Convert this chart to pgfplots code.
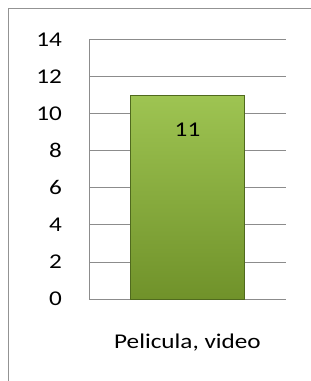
\documentclass[border=0pt]{standalone}
\usepackage{fontspec}
\setmainfont{Carlito}[FakeStretch=1.2]
\usepackage{pgfplots}
\pgfplotsset{compat=1.18}
\definecolor{gridgray}{RGB}{140,140,140}
\definecolor{bartop}{RGB}{158,196,82}
\definecolor{barbot}{RGB}{112,146,42}
\definecolor{baredge}{RGB}{80,106,30}
\begin{document}
\begin{tikzpicture}
\useasboundingbox (0,0) rectangle (311bp,-381bp);
\draw[color=gray!85, line width=1bp] (8.5bp,-381bp) -- (8.5bp,-8.5bp) -- (311bp,-8.5bp);
\begin{axis}[
  at={(89bp,-299bp)}, anchor=south west,
  scale only axis, width=197bp, height=259.5bp,
  xmin=-0.5, xmax=0.5, ymin=0, ymax=14,
  xtick={0}, xticklabels={Pelicula{,} video},
  ytick={0,2,...,14},
  ymajorgrids, grid style={gridgray, line width=0.8bp},
  axis x line*=bottom, axis y line*=left,
  axis line style={gridgray, line width=0.8bp, -},
  major tick length=0pt,
  /pgf/number format/assume math mode=true,
  ticklabel style={font=\fontsize{21bp}{25bp}\selectfont, text=black},
  yticklabel style={anchor=east, inner sep=0pt, xshift=-27bp},
  xticklabel style={anchor=north, inner sep=0pt, yshift=-35bp},
]
\addplot[ybar, bar width=114bp, draw=baredge, line width=0.6bp,
  top color=bartop, bottom color=barbot,
  nodes near coords,
  every node near coord/.append style={anchor=center, yshift=-35bp, text=black,
    font=\fontsize{21bp}{25bp}\selectfont}]
  coordinates {(0,11)};
\end{axis}
\end{tikzpicture}
\end{document}
